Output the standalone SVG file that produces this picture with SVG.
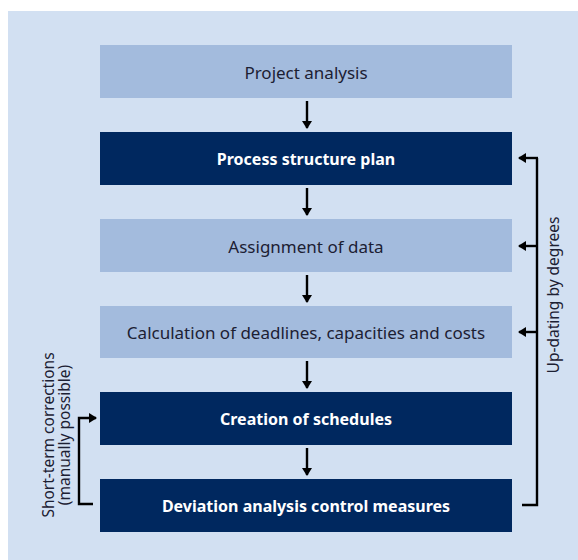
<svg xmlns="http://www.w3.org/2000/svg" width="578" height="560" viewBox="0 0 578 560">
<defs>
<marker id="ah" viewBox="0 0 8 10" refX="7" refY="5" markerWidth="8" markerHeight="10" orient="auto" markerUnits="userSpaceOnUse">
<path d="M0,0 L8,5 L0,10 z" fill="#000"/>
</marker>
<style>
.light{fill:#a3bbdd}
.dark{fill:#00285f}
.t{font-family:"Noto Sans","Open Sans",sans-serif;font-size:17px;text-anchor:middle;dominant-baseline:central}
.tl{fill:#1c2033}
.td{fill:#fff;font-weight:bold;font-size:16px}
.r{font-size:15.5px}
.c{stroke:#000;stroke-width:2.4;fill:none}
</style>
</defs>
<rect x="0" y="0" width="578" height="560" fill="#fff"/>
<rect x="8" y="11" width="570" height="549" fill="#d2e0f2"/>
<g id="n1"><rect class="light" x="100" y="45" width="412" height="53"/><text class="t tl" x="306" y="72">Project analysis</text></g>
<g id="n2"><rect class="dark" x="100" y="132" width="412" height="53"/><text class="t td" x="306" y="159">Process structure plan</text></g>
<g id="n3"><rect class="light" x="100" y="219" width="412" height="53"/><text class="t tl" x="306" y="246">Assignment of data</text></g>
<g id="n4"><rect class="light" x="100" y="306" width="412" height="52"/><text class="t tl" x="306" y="332">Calculation of deadlines, capacities and costs</text></g>
<g id="n5"><rect class="dark" x="100" y="392" width="412" height="53"/><text class="t td" x="306" y="419">Creation of schedules</text></g>
<g id="n6"><rect class="dark" x="100" y="479" width="412" height="53"/><text class="t td" x="306" y="506">Deviation analysis control measures</text></g>
<g id="connectors">
<line class="c" x1="307" y1="101" x2="307" y2="128" marker-end="url(#ah)"/>
<line class="c" x1="307" y1="188" x2="307" y2="215" marker-end="url(#ah)"/>
<line class="c" x1="307" y1="275" x2="307" y2="302" marker-end="url(#ah)"/>
<line class="c" x1="307" y1="361" x2="307" y2="388" marker-end="url(#ah)"/>
<line class="c" x1="307" y1="448" x2="307" y2="475" marker-end="url(#ah)"/>
<polyline class="c" points="522,505 537,505 537,158"/>
<line class="c" x1="538" y1="158" x2="519" y2="158" marker-end="url(#ah)"/>
<line class="c" x1="538" y1="246" x2="519" y2="246" marker-end="url(#ah)"/>
<line class="c" x1="538" y1="332" x2="519" y2="332" marker-end="url(#ah)"/>
<polyline class="c" points="93,504 79,504 79,418 96,418" marker-end="url(#ah)"/>
</g>
<text class="t tl r" transform="translate(553,295) rotate(-90)">Up-dating by degrees</text>
<text class="t tl r" transform="translate(48,435) rotate(-90)">Short-term corrections</text>
<text class="t tl r" transform="translate(64,435) rotate(-90)">(manually possible)</text>
</svg>
